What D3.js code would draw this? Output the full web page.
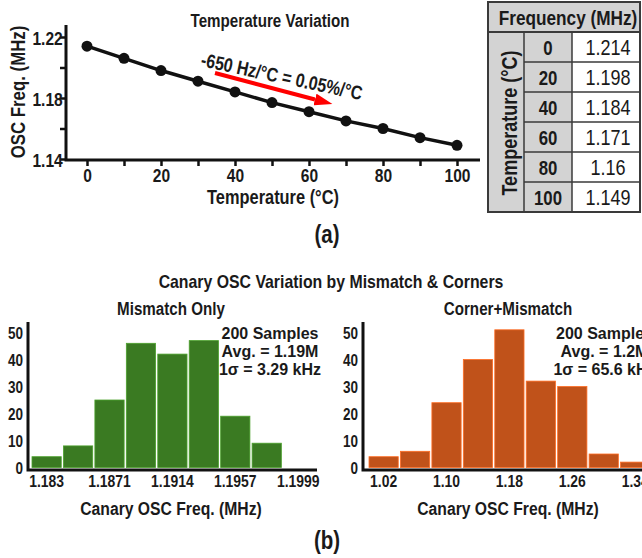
<!DOCTYPE html>
<html>
<head>
<meta charset="utf-8">
<script src="https://cdn.jsdelivr.net/npm/d3@7"></script>
<style>
  body { margin: 0; background: #fff; }
  svg { display: block; font-family: "Liberation Sans", Arial, sans-serif; }
  text { font-weight: bold; fill: #1a1a1a; }
</style>
</head>
<body>
<svg id="fig" width="642" height="558"></svg>
<script>
// (a) temperature sweep
const temps = [0, 10, 20, 30, 40, 50, 60, 70, 80, 90, 100];
const freqs = [1.214, 1.206, 1.198, 1.191, 1.184, 1.177, 1.171, 1.165, 1.160, 1.154, 1.149];
const yTicksA = [1.14, 1.16, 1.18, 1.20, 1.22];
const yLabelsA = [1.14, 1.18, 1.22];

// table beside it
const tableTemps = ["0", "20", "40", "60", "80", "100"];
const tableFreqs = ["1.214", "1.198", "1.184", "1.171", "1.16", "1.149"];

// (b) histograms
const mmBins = ["1.183", "1.18515", "1.1871", "1.18925", "1.1914", "1.19355", "1.1957", "1.19785", "1.1999"];
const mmCounts = [4, 8, 25, 46, 42, 47, 19, 9, 0];
const mmLabels = ["1.183", "1.1871", "1.1914", "1.1957", "1.1999"];
const mmStats = ["200 Samples", "Avg. = 1.19M", "1\u03c3 = 3.29 kHz"];

const cmBins = ["1.02", "1.06", "1.10", "1.14", "1.18", "1.22", "1.26", "1.30", "1.34"];
const cmCounts = [4, 6, 24, 40, 51, 32, 30, 5, 2];
const cmLabels = ["1.02", "1.10", "1.18", "1.26", "1.34"];
const cmStats = ["200 Samples", "Avg. = 1.2M", "1\u03c3 = 65.6 kHz"];

const svg = d3.select("#fig");
const NARROW = 0.82; // no Arial Narrow here, squeeze Liberation Sans instead

// text squeezed horizontally around its anchor point
function label(parent, x, y, s, size, opt = {}) {
    let rot = opt.rotate ? ` rotate(${opt.rotate})` : "";
    let t = parent.append("text")
        .attr("transform", `translate(${x},${y})${rot} scale(${opt.sx || NARROW},1)`)
        .attr("font-size", size).attr("text-anchor", opt.anchor || "middle").text(s);
    if (opt.normal) t.style("font-weight", "normal");
    return t;
}

function styleAxis(g, size, ty, tx) {
    g.attr("font-family", null).attr("font-size", null);
    g.select(".domain").remove();
    g.selectAll(".tick line").attr("stroke", "#111").attr("stroke-width", 2.5);
    g.selectAll(".tick text").attr("font-size", size).attr("fill", "#1a1a1a")
        .attr("dy", null).attr("y", ty).attr("x", tx)
        .attr("transform", `scale(${NARROW},1)`);
}

// ---------- (a) line chart ----------
let x = d3.scaleLinear().domain([0, 100]).range([87, 457]);
let y = d3.scaleLinear().domain([1.14, 1.22]).range([159, 37]);

let gx = svg.append("g").attr("transform", "translate(0,160)")
    .call(d3.axisBottom(x).tickValues(temps).tickSize(6).tickFormat(d => d % 20 === 0 ? d : ""));
styleAxis(gx, 19, 22.5, 0);
let gy = svg.append("g").attr("transform", "translate(66,0)")
    .call(d3.axisLeft(y).tickValues(yTicksA).tickSize(6).tickFormat(d => yLabelsA.includes(d) ? d.toFixed(2) : ""));
styleAxis(gy, 19, 7, -4);
gy.selectAll(".tick text").attr("text-anchor", "end");
svg.append("path").attr("d", "M66,25 V160 H480").attr("fill", "none").attr("stroke", "#111").attr("stroke-width", 3);

label(svg, 270, 27, "Temperature Variation", 18.5);
label(svg, 273, 204, "Temperature (\u00b0C)", 20);
label(svg, 25, 92, "OSC Freq. (MHz)", 20.5, { rotate: -90 });

svg.append("path").datum(temps.map((t, i) => [t, freqs[i]]))
    .attr("d", d3.line().x(d => x(d[0])).y(d => y(d[1])))
    .attr("fill", "none").attr("stroke", "#111").attr("stroke-width", 3.5);
svg.selectAll(".pt").data(temps).enter().append("circle")
    .attr("cx", d => x(d)).attr("cy", (d, i) => y(freqs[i])).attr("r", 5.5).attr("fill", "#111");

// slope annotation
svg.append("defs").append("marker").attr("id", "head").attr("viewBox", "0 0 18 12")
    .attr("markerUnits", "userSpaceOnUse").attr("refX", 0).attr("refY", 6)
    .attr("markerWidth", 18).attr("markerHeight", 12).attr("orient", "auto")
    .append("path").attr("d", "M0,0 L18,6 L0,12 Z").attr("fill", "#f00");
svg.append("line").attr("x1", 215).attr("y1", 73).attr("x2", 315).attr("y2", 99.5)
    .attr("stroke", "#f00").attr("stroke-width", 4).attr("marker-end", "url(#head)");
label(svg, 200, 66, "-650 Hz/\u00b0C = 0.05%/\u00b0C", 19.5, { rotate: 12, anchor: "start" });

// table
const tb = svg.append("g");
let row = d3.scaleBand().domain(tableTemps).range([32, 212]);
tb.append("rect").attr("x", 488).attr("y", 2).attr("width", 152).attr("height", 210).attr("fill", "#d3d3d3");
tb.selectAll(".cell").data(tableFreqs).enter().append("rect")
    .attr("x", 572).attr("y", (d, i) => row(tableTemps[i])).attr("width", 68).attr("height", row.bandwidth())
    .attr("fill", "#fff");
tb.selectAll(".hl").data(tableTemps.slice(1)).enter().append("line")
    .attr("x1", 524).attr("x2", 640).attr("y1", d => row(d)).attr("y2", d => row(d))
    .attr("stroke", "#3a3a3a").attr("stroke-width", 1.5);
tb.append("line").attr("x1", 488).attr("x2", 640).attr("y1", 32).attr("y2", 32).attr("stroke", "#3a3a3a").attr("stroke-width", 2);
tb.append("line").attr("x1", 524).attr("x2", 524).attr("y1", 32).attr("y2", 212).attr("stroke", "#3a3a3a").attr("stroke-width", 1.5);
tb.append("line").attr("x1", 572).attr("x2", 572).attr("y1", 32).attr("y2", 212).attr("stroke", "#3a3a3a").attr("stroke-width", 1.5);
tb.append("rect").attr("x", 488).attr("y", 2).attr("width", 152).attr("height", 210)
    .attr("fill", "none").attr("stroke", "#3a3a3a").attr("stroke-width", 2);
label(tb, 568, 25, "Frequency (MHz)", 21);
label(tb, 517, 123, "Temperature (\u00b0C)", 22, { rotate: -90 });
tableTemps.forEach(t => label(tb, 548, row(t) + row.bandwidth() / 2 + 7.5, t, 20.5));
tableFreqs.forEach((f, i) => label(tb, 608, row(tableTemps[i]) + row.bandwidth() / 2 + 7.5, f, 22, { normal: true }));

label(svg, 327, 243, "(a)", 25);

// ---------- (b) histograms ----------
label(svg, 331, 288, "Canary OSC Variation by Mismatch & Corners", 18, { sx: 0.88 });

function histogram(ox, x0, bins, counts, ticks, stats, statX, color, title, titleX, xEnd) {
    let g = svg.append("g");
    let xb = d3.scaleBand().domain(bins).range([x0, x0 + 31.2 * bins.length]).paddingInner(0.07);
    let yb = d3.scaleLinear().domain([0, 50]).range([467.5, 332.5]);

    g.selectAll("rect").data(bins).enter().append("rect")
        .attr("x", d => xb(d)).attr("width", xb.bandwidth())
        .attr("y", (d, i) => yb(counts[i])).attr("height", (d, i) => yb(0) - yb(counts[i]))
        .attr("fill", color).attr("stroke", d3.color(color).brighter(0.8)).attr("stroke-width", 0.8);

    let ga = g.append("g").attr("transform", `translate(${ox},0)`)
        .call(d3.axisLeft(yb).tickValues(d3.range(0, 51, 10)).tickSize(0));
    styleAxis(ga, 16.5, 6, -6);
    ga.selectAll(".tick text").attr("text-anchor", "end");
    let gb = g.append("g").attr("transform", "translate(0,470)")
        .call(d3.axisBottom(xb).tickValues(ticks).tickSize(0));
    styleAxis(gb, 17, 17, 0);

    g.append("path").attr("d", `M${ox},322 V470 H${xEnd}`).attr("fill", "none").attr("stroke", "#111").attr("stroke-width", 3);
    stats.forEach((s, i) => label(g, statX, 339 + i * 18, s, 16, { sx: 1 }));
    label(g, titleX, 315, title, 18.5);
    label(g, titleX, 515, "Canary OSC Freq. (MHz)", 18.6, { sx: 0.845 });
}

histogram(28, 32, mmBins, mmCounts, mmLabels, mmStats, 270, "#3a7a22", "Mismatch Only", 171, 317);
histogram(363, 369, cmBins, cmCounts, cmLabels, cmStats, 604.5, "#c0521a", "Corner+Mismatch", 508, 642);

label(svg, 327, 549, "(b)", 25);
</script>
</body>
</html>
